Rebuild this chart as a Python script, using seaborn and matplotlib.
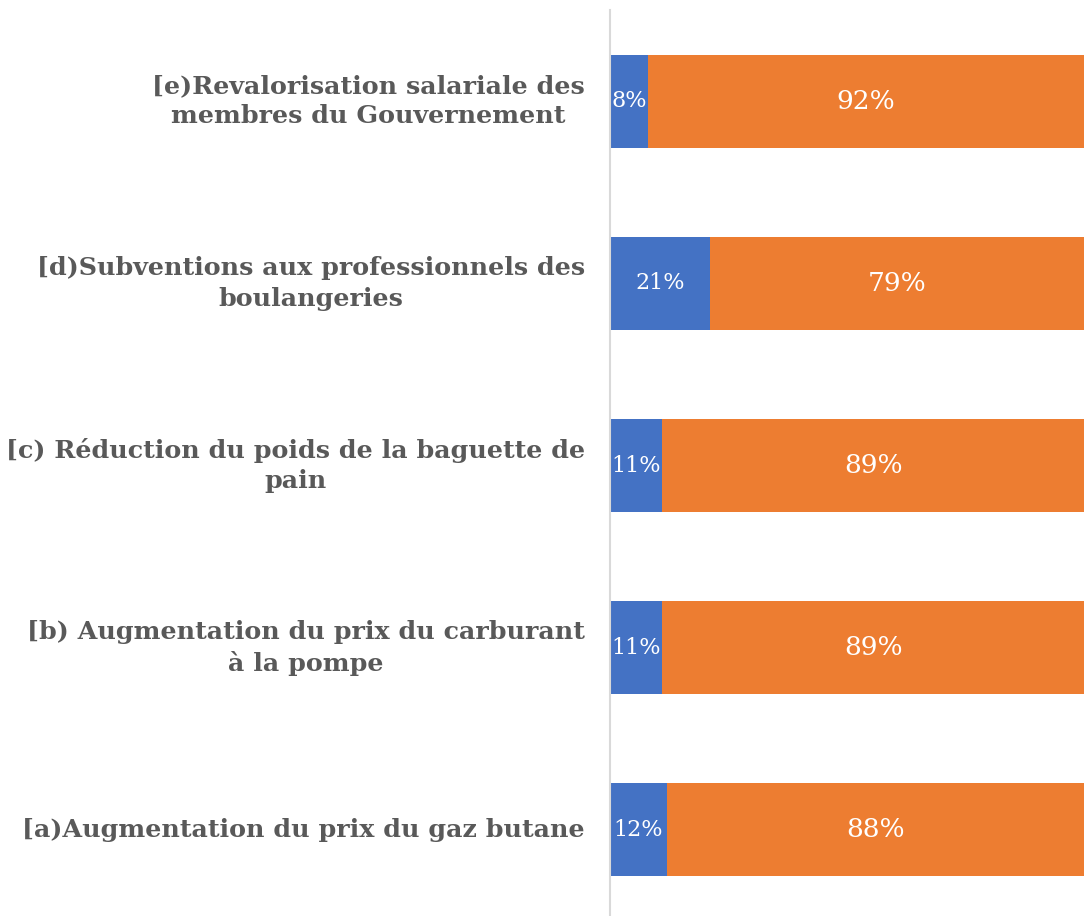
import matplotlib
matplotlib.use("Agg")
import matplotlib.pyplot as plt
import seaborn as sns
import pandas as pd
import numpy as np

categories = [
    "[e)Revalorisation salariale des\nmembres du Gouvernement",
    "[d)Subventions aux professionnels des\nboulangeries",
    "[c) Réduction du poids de la baguette de\npain",
    "[b) Augmentation du prix du carburant\nà la pompe",
    "[a)Augmentation du prix du gaz butane",
]
blue_vals = [8, 21, 11, 11, 12]
orange_vals = [92, 79, 89, 89, 88]

BLUE = "#4472C4"
ORANGE = "#ED7D31"
GRAY = "#595959"

sns.set_theme(style="white")
plt.rcParams["font.family"] = ["DejaVu Serif", "Liberation Serif"]

df = pd.DataFrame({"cat": categories, "blue": blue_vals, "orange": orange_vals})
df["total"] = df["blue"] + df["orange"]

fig = plt.figure(figsize=(10.84, 9.16), dpi=100)
ax = fig.add_axes([610 / 1084, (916 - 921) / 916, 1 - 610 / 1084, 911 / 916])

sns.barplot(data=df, x="total", y="cat", color=ORANGE, orient="h", width=0.51,
            linewidth=0, saturation=1, ax=ax)
sns.barplot(data=df, x="blue", y="cat", color=BLUE, orient="h", width=0.51,
            linewidth=0, saturation=1, ax=ax)

ax.set_xlim(0, 100)
ax.set_ylim(4.5, -0.5)
ax.set_xlabel("")
ax.set_ylabel("")
ax.set_xticks([])

for i, (b, o) in enumerate(zip(df["blue"], df["orange"])):
    ax.text(b / 2, i, f"{b}%", ha="center", va="center", color="white", fontsize=16)
    ax.text(b + o / 2, i, f"{o}%", ha="center", va="center", color="white", fontsize=19)

ax.tick_params(axis="y", length=0, pad=18)
for lab in ax.get_yticklabels():
    lab.set_fontsize(18.3)
    lab.set_fontweight("bold")
    lab.set_color(GRAY)
    lab.set_multialignment("center")
    lab.set_linespacing(1.35)
    lab.set_verticalalignment("center")

for s in ["top", "right", "bottom"]:
    ax.spines[s].set_visible(False)
ax.spines["left"].set_color("#D9D9D9")
ax.spines["left"].set_linewidth(1.5)

fig.savefig("out.png", dpi=100)
